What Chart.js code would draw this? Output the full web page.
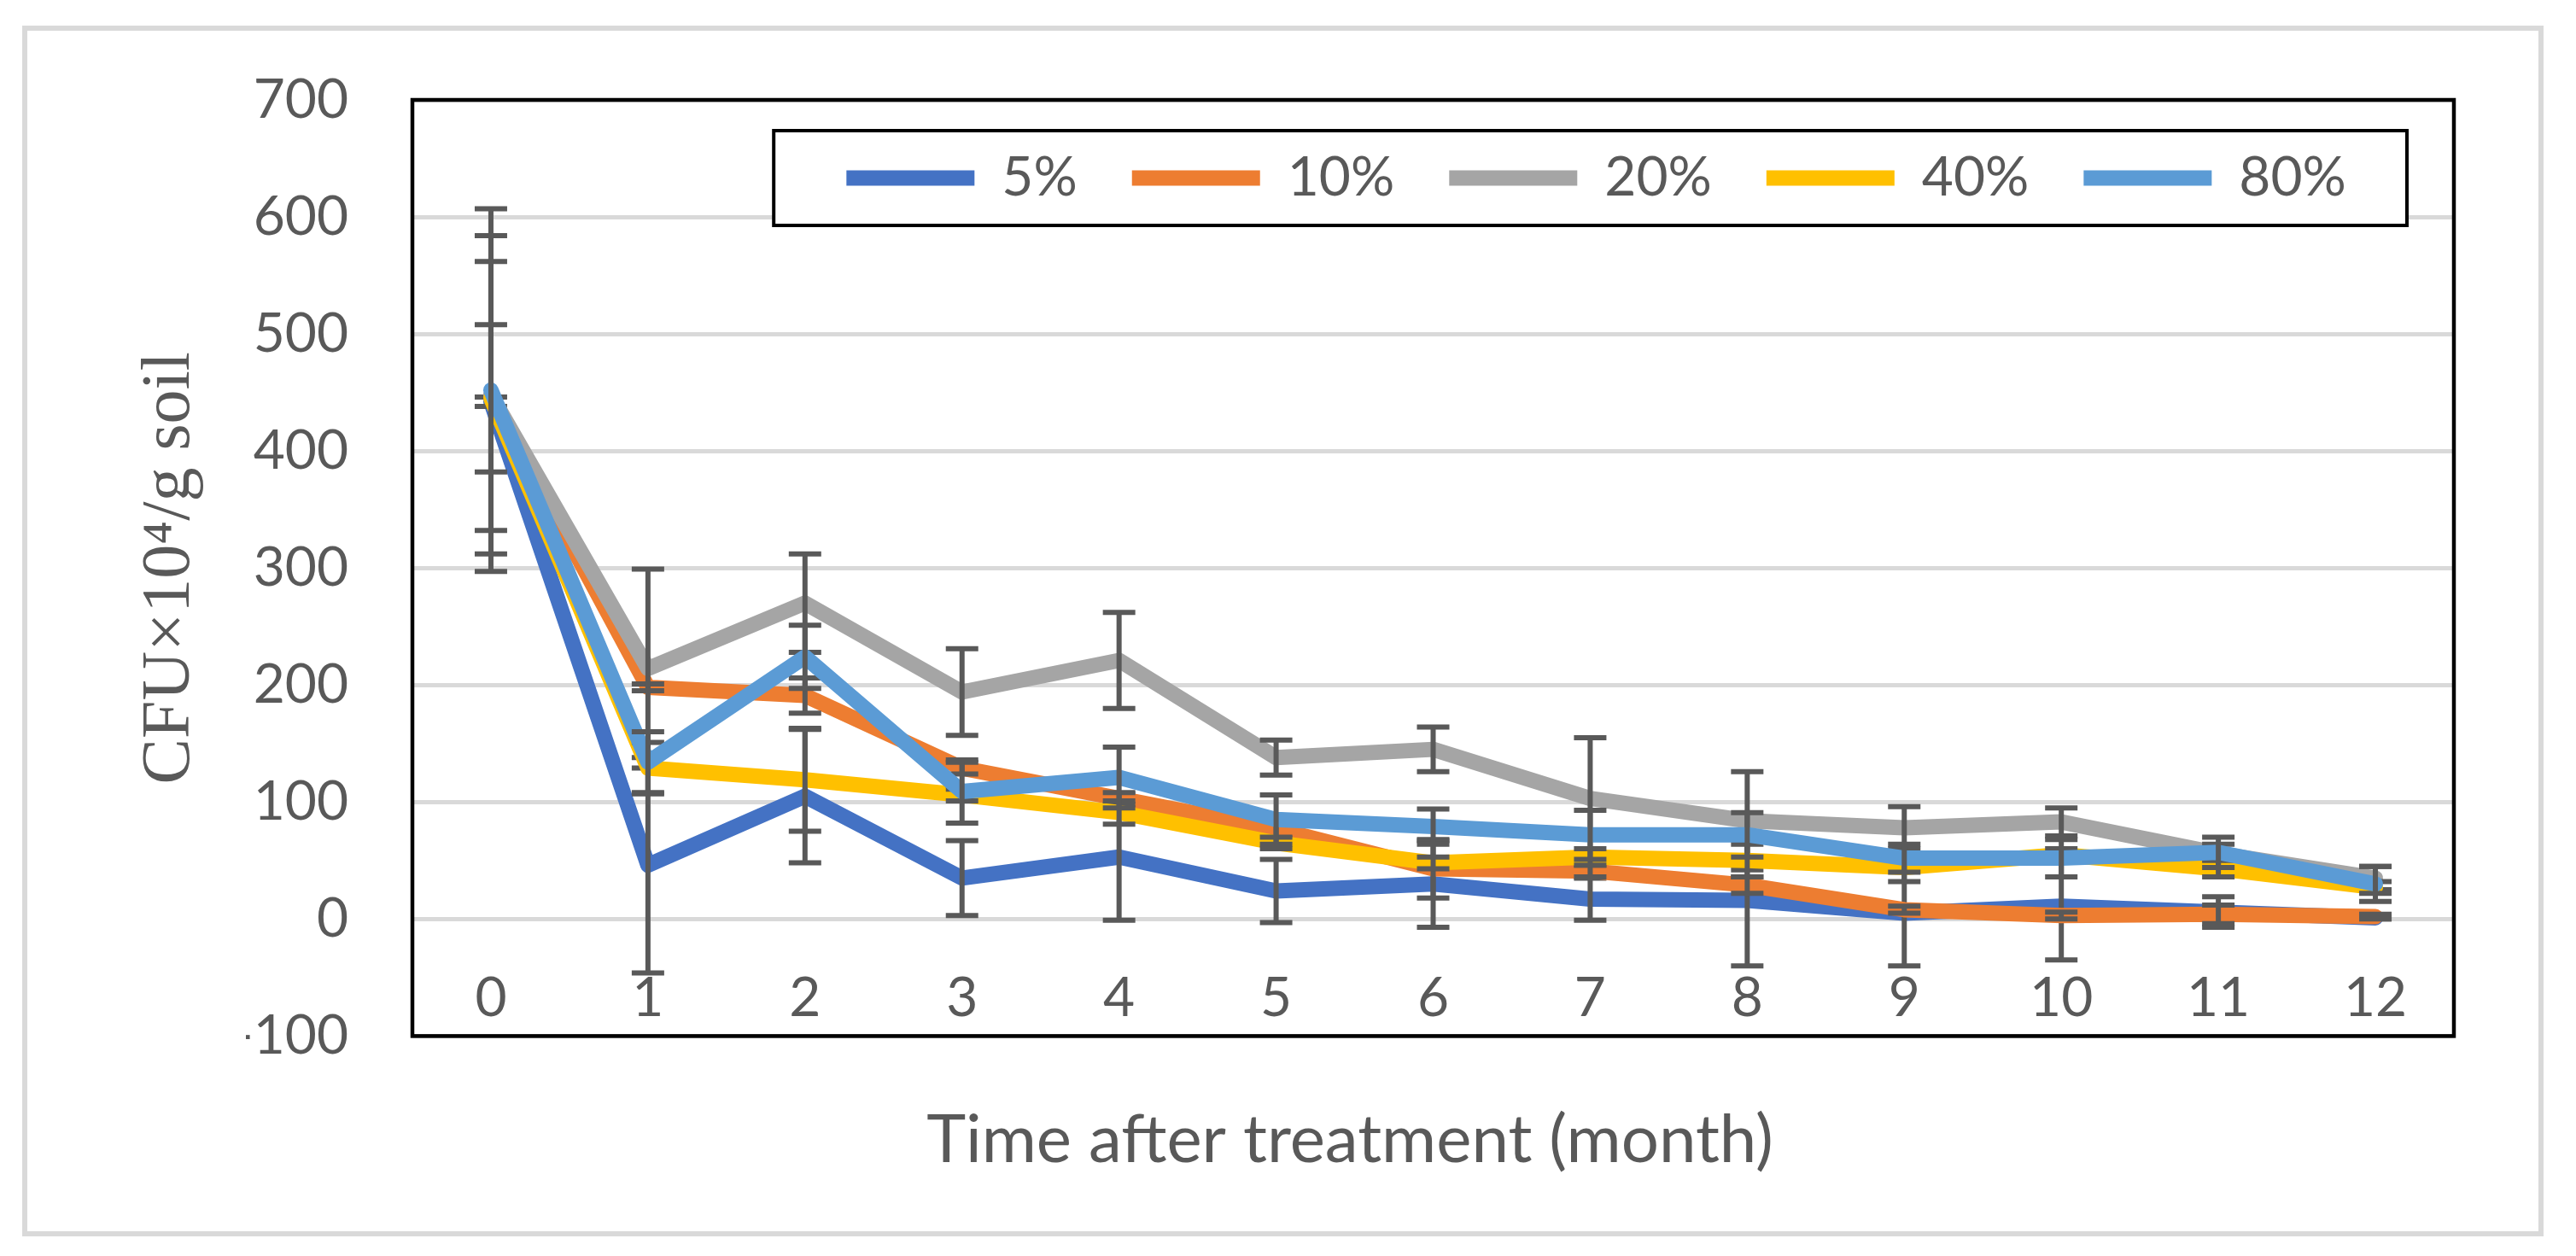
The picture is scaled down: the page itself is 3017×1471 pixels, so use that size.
<!DOCTYPE html>
<html>
<head>
<meta charset="utf-8">
<script src="https://cdn.jsdelivr.net/npm/chart.js"></script>
<style>
    body { margin: 0; background: #fff; }
    .wrap { position: relative; width: 3017px; height: 1471px; }
    .frame { position: absolute; left: 26px; top: 30px; width: 2941px; height: 1406px; border: 6px solid #d9d9d9; }
    canvas { position: absolute; left: 0; top: 0; }
</style>
</head>
<body>
<div class="wrap">
    <div class="frame"></div>
    <canvas id="myChart" width="3017" height="1471"></canvas>
</div>
<script>
const months = ['0', '1', '2', '3', '4', '5', '6', '7', '8', '9', '10', '11', '12'];

const seriesNames = ['5%', '10%', '20%', '40%', '80%'];
const seriesColors = ['#4472c4', '#ed7d31', '#a5a5a5', '#ffc000', '#5b9bd5'];

const cfu5 = [442, 46, 105, 35, 53, 24, 30, 17, 16, 5, 11, 6, 1];
const cfu10 = [447, 198, 191, 129, 103, 77, 43, 41, 29, 8, 3, 4, 2];
const cfu20 = [448, 214, 270, 194, 221, 138, 145, 103, 84, 78, 83, 56, 35];
const cfu40 = [445, 129, 119, 106, 91, 65, 48, 53, 50, 44, 55, 43, 27];
const cfu80 = [452, 134, 224, 109, 121, 85, 79, 72, 72, 52, 52, 57, 30];

// +/- error for each point
const err5 = [4, 92, 57, 32, 54, 27, 37, 18, 56, 45, 46, 13, 1];
const err10 = [115, 3, 15, 5, 5, 8, 25, 5, 7, 3, 3, 8, 2];
const err20 = [136, 85, 42, 37, 41, 15, 19, 52, 42, 18, 12, 8, 10];
const err40 = [63, 22, 44, 5, 10, 5, 5, 7, 14, 12, 5, 7, 5];
const err80 = [155, 26, 27, 27, 26, 21, 15, 21, 19, 12, 16, 13, 15];

const yMin = -100;
const yMax = 700;
const yStep = 100;

const seriesData = [cfu5, cfu10, cfu20, cfu40, cfu80];
const seriesErrors = [err5, err10, err20, err40, err80];

const textColor = '#595959';
Chart.defaults.font.family = 'Lato';
Chart.defaults.color = textColor;

const datasets = seriesNames.map((name, i) => ({
    label: name,
    data: seriesData[i],
    borderColor: seriesColors[i],
    backgroundColor: seriesColors[i],
    borderWidth: 18,
    borderCapStyle: 'round',
    borderJoinStyle: 'round',
    pointRadius: 0,
    tension: 0,
    order: seriesNames.length - i
}));

// error bars drawn right after each series, so later series cover them
const errorBars = {
    id: 'errorBars',
    afterDatasetDraw(chart, args) {
        const errs = seriesErrors[args.index];
        const values = chart.data.datasets[args.index].data;
        const y = chart.scales.y;
        const ctx = chart.ctx;
        ctx.save();
        ctx.strokeStyle = '#595959';
        ctx.lineWidth = 6;
        args.meta.data.forEach((pt, i) => {
            const top = y.getPixelForValue(values[i] + errs[i]);
            const bottom = y.getPixelForValue(values[i] - errs[i]);
            ctx.beginPath();
            ctx.moveTo(pt.x, top);
            ctx.lineTo(pt.x, bottom);
            ctx.moveTo(pt.x - 19, top);
            ctx.lineTo(pt.x + 19, top);
            ctx.moveTo(pt.x - 19, bottom);
            ctx.lineTo(pt.x + 19, bottom);
            ctx.stroke();
        });
        ctx.restore();
    }
};

// legend sits inside the plot, in a framed white box
const legendInPlot = {
    id: 'legendInPlot',
    afterInit(chart) {
        const legend = chart.legend;
        const fit = legend.fit;
        legend.fit = function () {
            fit.call(this);
            this.height = 0;
        };
        const draw = legend.draw;
        legend.draw = function (area) {
            const c = this.ctx;
            c.save();
            c.fillStyle = '#ffffff';
            c.fillRect(this.boxLeft, this.boxTop, this.boxRight - this.boxLeft, this.boxBottom - this.boxTop);
            c.strokeStyle = '#000000';
            c.lineWidth = 4;
            c.strokeRect(this.boxLeft, this.boxTop, this.boxRight - this.boxLeft, this.boxBottom - this.boxTop);
            c.restore();
            draw.call(this, area);
        };
    },
    afterLayout(chart) {
        const legend = chart.legend;
        const a = chart.chartArea;
        const w = a.right - a.left;
        legend.boxLeft = a.left + 0.177 * w;
        legend.boxRight = a.left + 0.977 * w;
        legend.boxTop = a.top + 36;
        legend.boxBottom = a.top + 147;
        const pad = legend.options.labels.padding;
        legend.left = legend.boxLeft - 6;
        legend.right = legend.boxRight + 20;
        legend.top = (legend.boxTop + legend.boxBottom) / 2 - 32 - pad;
        legend.bottom = legend.boxBottom;
    }
};

const plotFrame = {
    id: 'plotFrame',
    afterDraw(chart) {
        const { ctx, chartArea: a } = chart;
        ctx.save();
        ctx.strokeStyle = '#000000';
        ctx.lineWidth = 4.5;
        ctx.strokeRect(a.left, a.top, a.right - a.left, a.bottom - a.top);
        ctx.restore();
    }
};

const ctx = document.getElementById('myChart').getContext('2d');

const myChart = new Chart(ctx, {
    type: 'line',
    data: {
        labels: months,
        datasets: datasets
    },
    plugins: [errorBars, legendInPlot, plotFrame],
    options: {
        responsive: false,
        animation: false,
        devicePixelRatio: 1,
        layout: {
            padding: { left: 288, right: 143, top: 117, bottom: 0 }
        },
        scales: {
            x: {
                offset: true,
                grid: { display: false, drawTicks: false },
                border: { display: false },
                ticks: {
                    // labels sit inside the plot, just above its bottom edge
                    mirror: true,
                    padding: 6,
                    maxRotation: 0,
                    autoSkip: false,
                    color: textColor,
                    font: { size: 64 }
                },
                afterFit(scale) {
                    scale.height = 76;
                }
            },
            y: {
                min: yMin,
                max: yMax,
                grid: { color: '#d9d9d9', lineWidth: 5, drawTicks: false },
                border: { display: false },
                ticks: {
                    stepSize: yStep,
                    padding: 75,
                    color: textColor,
                    font: { size: 64 },
                    callback: (v) => String(v)
                },
                title: {
                    display: true,
                    text: 'CFU×10⁴/g soil',
                    color: textColor,
                    font: { family: 'Liberation Serif', size: 80 },
                    padding: { top: -136, bottom: 0 }
                },
                afterFit(scale) {
                    scale.width = 195;
                }
            }
        },
        plugins: {
            legend: {
                position: 'top',
                align: 'center',
                labels: {
                    usePointStyle: true,
                    pointStyle: 'line',
                    pointStyleWidth: 150,
                    boxHeight: 18,
                    padding: 64,
                    color: textColor,
                    font: { size: 64 },
                    sort: (a, b) => a.datasetIndex - b.datasetIndex
                }
            },
            title: {
                display: true,
                position: 'bottom',
                text: 'Time after treatment (month)',
                color: textColor,
                font: { size: 78, weight: 'normal' },
                padding: { top: 0, bottom: 88 }
            },
            tooltip: { enabled: false }
        }
    }
});
</script>
</body>
</html>
